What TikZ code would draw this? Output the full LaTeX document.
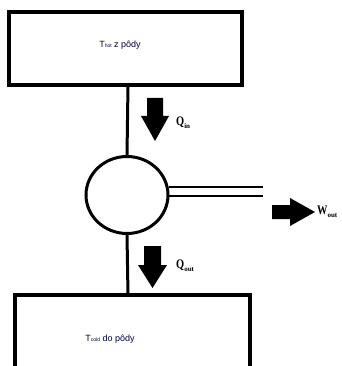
\documentclass[tikz,border=0pt]{standalone}
\usepackage{fontspec}
\usetikzlibrary{shapes.geometric}
\setmainfont{Liberation Serif}
\newfontfamily\boxfont{Liberation Sans}
\begin{document}
\begin{tikzpicture}[x=1pt,y=-1pt,
  reservoir/.style={draw=black,line width=4pt},
  conn/.style={draw=black,line width=3pt},
  blockarrow/.style={fill=black,draw=none},
  boxtext/.style={font=\boxfont\fontsize{9}{11}\selectfont,text=black!70!blue!70!black,inner sep=0pt},
  qlabel/.style={font=\bfseries\fontsize{13}{14}\selectfont,inner sep=0pt,anchor=west}
]
\useasboundingbox (0,0) rectangle (341,366);
% reservoirs
\draw[reservoir] (9,12) rectangle (242,85);
\draw[reservoir] (15,295) rectangle (250,372);
\node[boxtext] (hot) at (120,45) {T\raisebox{-0.3pt}{\fontsize{5}{6}\selectfont hot} z pôdy};
\node[boxtext] (cold) at (110,339) {T\raisebox{-0.3pt}{\fontsize{5}{6}\selectfont cold} do pôdy};
\coordinate (hotb) at (128,85);
\coordinate (coldt) at (128,295);
% engine
\node[draw=black,line width=3pt,ellipse,minimum width=82pt,minimum height=77pt,inner sep=0pt] (eng) at (127,195) {};
\draw[conn] (hotb) -- (eng.north);
\draw[conn] (eng.south) -- (coldt);
% shaft
\coordinate (s1) at (263,187);
\coordinate (s2) at (263,196);
\draw[black,line width=2pt] (eng.east |- s1) ++(-1,0) -- (s1);
\draw[black,line width=2pt] (eng.east |- s2) ++(-1,0) -- (s2);
% Q_in arrow
\fill[blockarrow] (147,98) -- (163,98) -- (163,116) -- (169,116) -- (155,141) -- (141,116) -- (147,116) -- cycle;
\node[qlabel] (qin) at (176,123) {\scalebox{0.8}[1]{Q}\raisebox{-3pt}{\fontsize{7}{8}\selectfont in}};
% Q_out arrow
\fill[blockarrow] (144,246) -- (161,246) -- (161,265) -- (167,265) -- (152.5,288) -- (138,265) -- (144,265) -- cycle;
\node[qlabel] (qout) at (176,266) {\scalebox{0.8}[1]{Q}\raisebox{-3pt}{\fontsize{7}{8}\selectfont out}};
% W_out arrow
\fill[blockarrow] (272,205) -- (290,205) -- (290,198) -- (315,212) -- (290,226) -- (290,219) -- (272,219) -- cycle;
\node[qlabel] (wout) at (317,212) {\scalebox{0.8}[1]{W}\raisebox{-3pt}{\fontsize{7}{8}\selectfont out}};
\end{tikzpicture}
\end{document}
